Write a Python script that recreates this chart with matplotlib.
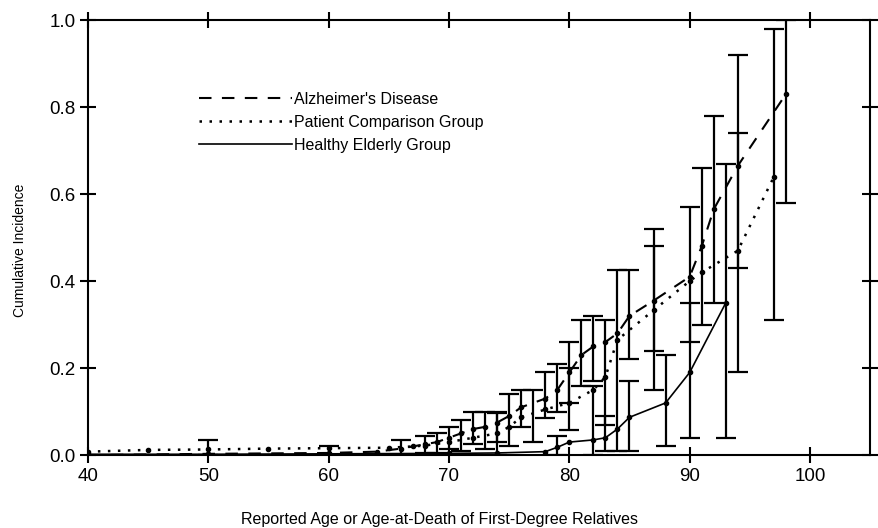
import matplotlib
matplotlib.use("Agg")
import matplotlib.pyplot as plt
import numpy as np

plt.rcParams['font.family'] = ['Liberation Sans', 'DejaVu Sans']

# Alzheimer's Disease relatives (dashed)
ad_age = [40, 50, 60, 64, 66, 68, 69, 70, 71, 72, 73, 74, 75, 76, 78, 79, 80, 81, 82, 83, 84, 85, 87, 90, 91, 92, 94, 98]
ad_inc = [0.0, 0.003, 0.005, 0.008, 0.015, 0.025, 0.03, 0.04, 0.05, 0.06, 0.065, 0.075, 0.09, 0.11, 0.13, 0.15,
          0.19, 0.23, 0.25, 0.26, 0.28, 0.32, 0.355, 0.41, 0.48, 0.565, 0.665, 0.83]
ad_bar_age = [68, 70, 72, 74, 76, 78, 79, 80, 81, 82, 85, 87, 90, 91, 92, 94, 98]
ad_bar_lo = [0.005, 0.015, 0.025, 0.03, 0.065, 0.085, 0.10, 0.12, 0.16, 0.17, 0.22, 0.24, 0.26, 0.30, 0.35, 0.43, 0.58]
ad_bar_hi = [0.045, 0.065, 0.10, 0.10, 0.15, 0.19, 0.21, 0.26, 0.31, 0.32, 0.425, 0.52, 0.57, 0.66, 0.78, 0.92, 1.0]

# Patient Comparison Group (dotted)
pc_age = [40, 45, 50, 55, 60, 65, 67, 68, 70, 72, 74, 75, 76, 78, 80, 82, 83, 84, 87, 90, 91, 94, 97]
pc_inc = [0.008, 0.012, 0.013, 0.015, 0.016, 0.017, 0.02, 0.022, 0.03, 0.04, 0.05, 0.065, 0.087, 0.105,
          0.12, 0.15, 0.18, 0.265, 0.333, 0.40, 0.42, 0.47, 0.64]
pc_bar_age = [50, 60, 66, 69, 71, 73, 75, 77, 80, 83, 84, 87, 94, 97]
pc_bar_lo = [0.0, 0.0, 0.0, 0.005, 0.01, 0.015, 0.02, 0.03, 0.057, 0.07, 0.01, 0.15, 0.19, 0.31]
pc_bar_hi = [0.035, 0.02, 0.035, 0.05, 0.08, 0.10, 0.14, 0.15, 0.20, 0.31, 0.425, 0.48, 0.74, 0.98]

# Healthy Elderly Group (solid)
he_age = [40, 50, 60, 70, 74, 78, 79, 80, 82, 83, 84, 85, 88, 90, 93]
he_inc = [0.002, 0.002, 0.003, 0.004, 0.005, 0.008, 0.018, 0.03, 0.035, 0.04, 0.06, 0.087, 0.12, 0.19, 0.35]
he_bar_age = [74, 79, 82, 83, 85, 88, 90, 93]
he_bar_lo = [0.0, 0.0, 0.0, 0.01, 0.01, 0.02, 0.04, 0.04]
he_bar_hi = [0.096, 0.045, 0.16, 0.09, 0.17, 0.23, 0.35, 0.67]


def bars(ax, age, inc_age, inc, lo, hi):
    c = np.interp(age, inc_age, inc)
    err = [c - np.array(lo), np.array(hi) - c]
    err = np.clip(err, 0, None)
    ax.errorbar(age, c, yerr=err, fmt='none', ecolor='black', elinewidth=1.6,
                capsize=7, capthick=1.6)


fig = plt.figure(figsize=(8.79, 5.28), dpi=100)
ax = fig.add_axes([0.100, 0.138, 0.890, 0.824])

ax.plot(ad_age, ad_inc, color='black', lw=1.5, ls=(0, (6, 5)), marker='o', ms=3,
        label="Alzheimer's Disease")
ax.plot(pc_age, pc_inc, color='black', lw=1.8, ls=(0, (1, 3)), marker='o', ms=3,
        label="Patient Comparison Group")
ax.plot(he_age, he_inc, color='black', lw=1.2, ls='-', marker='o', ms=3,
        label="Healthy Elderly Group")

bars(ax, ad_bar_age, ad_age, ad_inc, ad_bar_lo, ad_bar_hi)
bars(ax, pc_bar_age, pc_age, pc_inc, pc_bar_lo, pc_bar_hi)
bars(ax, he_bar_age, he_age, he_inc, he_bar_lo, he_bar_hi)

ax.set_xlim(40, 105)
ax.set_ylim(0, 1.0)
ax.set_xticks([40, 50, 60, 70, 80, 90, 100])
ax.set_yticks([0.0, 0.2, 0.4, 0.6, 0.8, 1.0])
ax.set_yticklabels(['0.0', '0.2', '0.4', '0.6', '0.8', '1.0'])
ax.tick_params(direction='inout', length=12, width=1.5, labelsize=13.5,
               top=True, right=True, pad=3)
for s in ax.spines.values():
    s.set_linewidth(1.5)

ax.set_ylabel('Cumulative Incidence', fontsize=10)
ax.yaxis.set_label_coords(-0.078, 0.47)
fig.text(0.50, 0.002, 'Reported Age or Age-at-Death of First-Degree Relatives',
         fontsize=11.5, ha='center', va='bottom')

leg = ax.legend(loc='upper left', bbox_to_anchor=(0.124, 0.868), frameon=False,
                handlelength=5.8, handletextpad=0.15, fontsize=11.5, labelspacing=0.5)
for h in leg.legend_handles:
    h.set_marker('')

fig.savefig('out.png', dpi=100)
